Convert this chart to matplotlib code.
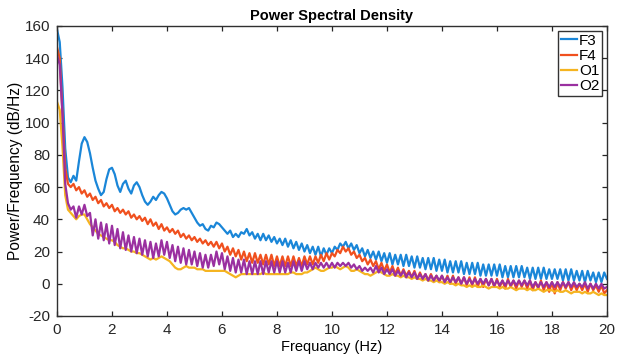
import numpy as np
import matplotlib
matplotlib.use("Agg")
import matplotlib.pyplot as plt

plt.rcParams['font.family'] = ['Liberation Sans', 'DejaVu Sans']
plt.rcParams['axes.unicode_minus'] = False

freq_start, freq_stop, freq_step = 0.0, 20.0, 0.1

f3 = [158, 150, 122, 84, 66, 63, 67, 64, 76, 87,
      91, 88, 81, 72, 64, 59, 55, 57, 65, 71,
      72, 68, 61, 57, 62, 64, 59, 56, 61, 63,
      60, 55, 51, 49, 51, 54, 52, 55, 57, 56,
      53, 49, 45, 43, 44, 46, 47, 46, 47, 44,
      41, 38, 36, 37, 34, 33, 36, 35, 38, 37,
      35, 33, 31, 33, 29, 31, 29, 32, 31, 34,
      30, 32, 28, 31, 27, 31, 27, 30, 26, 29,
      25, 28, 24, 28, 23, 27, 22, 26, 21, 25,
      20, 24, 19, 23, 18, 23, 17, 22, 18, 22,
      19, 23, 21, 25, 23, 26, 22, 25, 21, 24,
      19, 22, 17, 21, 16, 20, 15, 20, 14, 19,
      13, 19, 12, 18, 12, 18, 11, 18, 11, 17,
      10, 17, 10, 16, 9, 16, 9, 16, 8, 15,
      8, 15, 7, 14, 7, 14, 7, 14, 6, 13,
      6, 13, 6, 13, 5, 12, 5, 12, 5, 12,
      5, 12, 4, 11, 4, 11, 4, 11, 4, 11,
      4, 10, 3, 10, 3, 10, 3, 10, 3, 9,
      3, 9, 3, 9, 2, 9, 2, 9, 2, 8,
      2, 8, 1, 8, 2, 7, 1, 7, 1, 7,
      3]

f4 = [147, 140, 105, 72, 62, 60, 62, 58, 60, 56,
      58, 54, 56, 52, 54, 50, 52, 48, 50, 47,
      49, 45, 47, 44, 46, 43, 45, 41, 43, 40,
      42, 39, 41, 37, 40, 36, 38, 34, 37, 33,
      35, 32, 34, 31, 33, 29, 31, 28, 30, 27,
      29, 26, 28, 25, 27, 24, 26, 23, 26, 22,
      25, 20, 23, 18, 22, 17, 21, 15, 20, 14,
      19, 13, 19, 13, 18, 12, 18, 12, 18, 11,
      17, 11, 17, 11, 17, 11, 17, 11, 16, 11,
      17, 12, 17, 12, 17, 13, 18, 14, 19, 15,
      19, 17, 21, 19, 23, 20, 22, 18, 20, 16,
      18, 14, 16, 12, 15, 11, 14, 9, 13, 8,
      12, 7, 11, 6, 10, 5, 9, 5, 8, 4,
      8, 3, 7, 3, 6, 2, 6, 2, 5, 1,
      5, 1, 5, 0, 5, 0, 4, 0, 4, -1,
      4, -1, 4, -2, 3, -2, 3, -1, 3, -2,
      3, -2, 2, -3, 3, -2, 2, -3, 2, -2,
      2, -3, 2, -4, 1, -3, 2, -4, 1, -5,
      1, -6, 1, -4, 1, -3, 1, -4, 0, -4,
      0, -4, 0, -5, 0, -4, -1, -5, -1, -6,
      -4]

o1 = [113, 108, 85, 55, 46, 44, 42, 40, 42, 43,
      43, 40, 37, 35, 33, 31, 30, 29, 28, 27,
      27, 26, 24, 23, 22, 22, 21, 20, 20, 19,
      19, 18, 17, 16, 15, 16, 15, 16, 17, 16,
      15, 14, 12, 10, 9, 9, 10, 11, 10, 10,
      10, 9, 9, 9, 8, 8, 8, 8, 8, 8,
      8, 8, 7, 6, 5, 4, 5, 6, 6, 6,
      6, 6, 6, 6, 6, 7, 6, 6, 6, 6,
      6, 6, 6, 6, 6, 7, 7, 6, 6, 6,
      7, 7, 8, 9, 10, 9, 8, 8, 9, 10,
      10, 11, 10, 9, 10, 11, 10, 8, 8, 9,
      8, 7, 6, 6, 5, 6, 7, 8, 7, 6,
      5, 5, 6, 5, 5, 4, 5, 4, 4, 3,
      4, 3, 3, 2, 3, 2, 2, 1, 2, 1,
      1, 0, 1, 0, 0, -1, 0, -1, -1, -2,
      -1, -2, -1, -2, -2, -1, -2, -3, -2, -2,
      -2, -3, -2, -3, -3, -2, -3, -4, -3, -3,
      -3, -4, -3, -4, -4, -3, -4, -5, -4, -4,
      -4, -5, -4, -5, -5, -4, -5, -6, -5, -5,
      -5, -6, -5, -6, -6, -5, -6, -7, -6, -7,
      -7]

o2 = [142, 136, 105, 62, 50, 46, 48, 41, 48, 43,
      49, 42, 44, 30, 40, 28, 38, 27, 37, 25,
      36, 24, 34, 22, 32, 21, 30, 20, 29, 19,
      28, 18, 27, 17, 26, 16, 25, 17, 27, 18,
      26, 16, 24, 14, 23, 13, 22, 12, 21, 12,
      20, 11, 19, 10, 18, 10, 18, 11, 20, 12,
      19, 9, 17, 8, 16, 7, 15, 7, 15, 6,
      14, 6, 14, 6, 14, 6, 14, 7, 14, 7,
      14, 7, 14, 7, 13, 7, 14, 8, 14, 8,
      14, 9, 13, 9, 13, 10, 13, 10, 13, 10,
      13, 10, 13, 11, 13, 11, 13, 10, 12, 9,
      11, 8, 10, 8, 10, 7, 11, 7, 10, 6,
      9, 6, 9, 5, 8, 5, 8, 4, 7, 4,
      7, 3, 6, 3, 6, 2, 5, 2, 5, 2,
      5, 1, 4, 1, 4, 1, 4, 0, 4, 0,
      3, 0, 3, 0, 3, 0, 3, -1, 3, -1,
      2, -1, 2, -1, 2, -1, 2, -1, 2, -1,
      2, -1, 2, -2, 1, -2, 1, -2, 1, -2,
      1, -2, 1, -2, 1, -2, 1, -2, 1, -2,
      0, -2, 1, -3, 0, -3, 0, -3, 0, -3,
      -2]

series_names = ["F3", "F4", "O1", "O2"]
series_values = [f3, f4, o1, o2]
colors = ["#1a86d8", "#f0501e", "#f5b420", "#9a30a0"]

x_ticks = [0, 2, 4, 6, 8, 10, 12, 14, 16, 18, 20]
y_ticks = [-20, 0, 20, 40, 60, 80, 100, 120, 140, 160]

fig = plt.figure(figsize=(6.22, 3.61), dpi=100)
ax = fig.add_axes([0.0916, 0.1247, 0.8842, 0.8033])

for name, vals, c in zip(series_names, series_values, colors):
    x = freq_start + freq_step * np.arange(len(vals))
    ax.plot(x, vals, color=c, lw=1.6, label=name)

ax.set_xlim(0, 20)
ax.set_ylim(-20, 160)
ax.set_xticks(x_ticks)
ax.set_yticks(y_ticks)
ax.tick_params(direction='in', length=3.5, width=0.9, top=True, right=True,
               labelsize=11, colors='#262626', pad=5)
for s in ax.spines.values():
    s.set_color('#303030')
    s.set_linewidth(1.0)

ax.set_title("Power Spectral Density", fontsize=10.5, fontweight='bold', pad=4)
ax.set_xlabel("Frequancy (Hz)", fontsize=10.5, labelpad=2)
ax.set_ylabel("Power/Frequency (dB/Hz)", fontsize=11.2, labelpad=1)

leg = ax.legend(loc='upper right', fontsize=11, frameon=True, fancybox=False,
                handlelength=1.0, handletextpad=0.15, borderpad=0.2,
                labelspacing=0.08, borderaxespad=0.3)
leg.get_frame().set_edgecolor('black')
leg.get_frame().set_linewidth(1.0)

fig.savefig("out.png", dpi=100)
